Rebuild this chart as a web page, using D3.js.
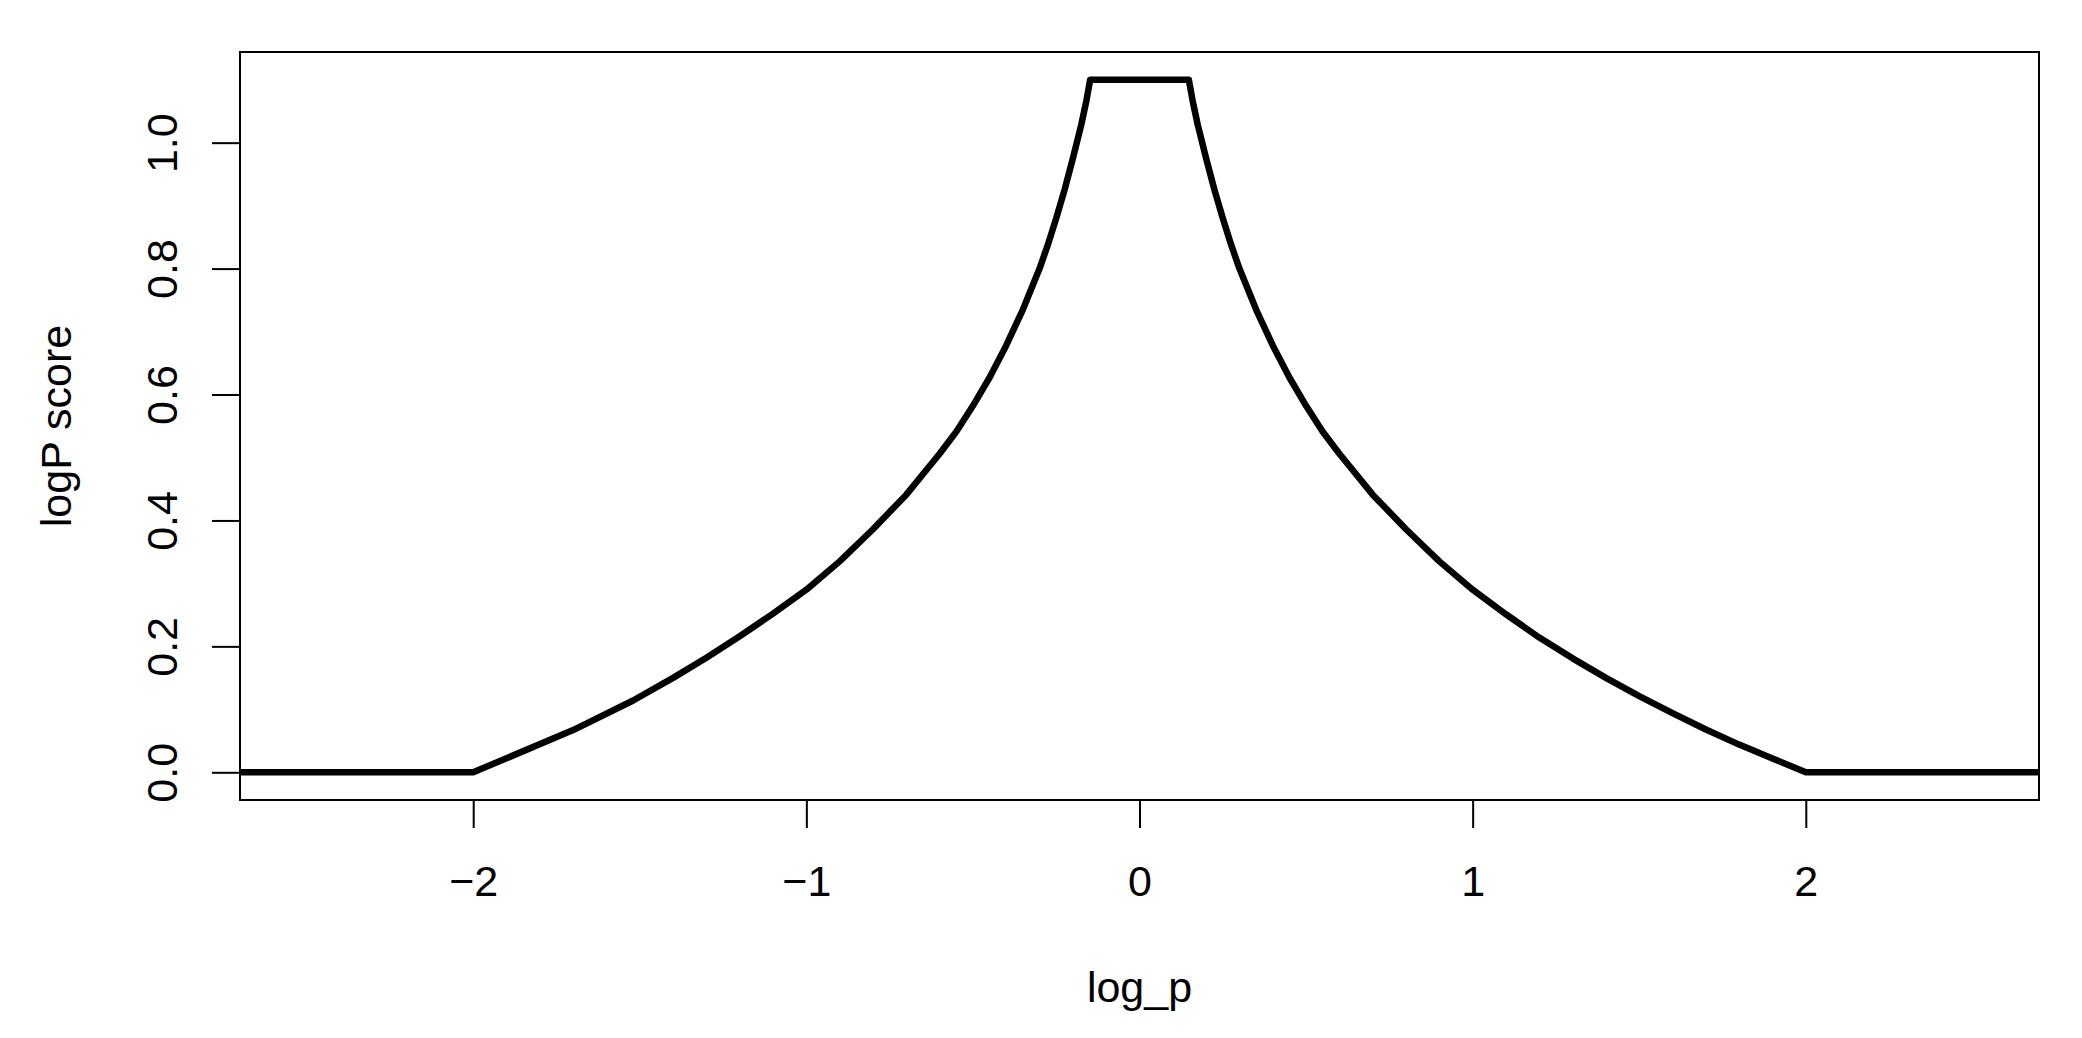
<!DOCTYPE html>
<html>
<head>
<meta charset="utf-8">
<script src="https://cdn.jsdelivr.net/npm/d3@7"></script>
<style>
  body { margin: 0; background: #fff; }
  text { font-family: "Liberation Sans", Arial, Helvetica, sans-serif; fill: #000; }
</style>
</head>
<body>
<div id="chart"></div>
<script>
// values
var logP = [-3.0, -2.0, -1.70, -1.52, -1.40, -1.30, -1.20, -1.10, -1.00, -0.90, -0.80,
            -0.70, -0.60, -0.55, -0.50, -0.45, -0.40, -0.35, -0.30, -0.275, -0.25, -0.225,
            -0.20, -0.175, -0.16, -0.148,
            0.148, 0.16, 0.175, 0.20, 0.225, 0.25, 0.275, 0.30, 0.35, 0.40, 0.45, 0.50,
            0.55, 0.60, 0.70, 0.80, 0.90, 1.00, 1.10, 1.20, 1.30, 1.40, 1.50, 1.60,
            1.70, 1.80, 1.90, 2.0, 3.0];
var score = [0, 0, 0.067, 0.114, 0.150, 0.182, 0.216, 0.252, 0.290, 0.335, 0.386,
             0.441, 0.506, 0.541, 0.582, 0.627, 0.678, 0.735, 0.800, 0.838, 0.880, 0.925,
             0.975, 1.028, 1.065, 1.10,
             1.10, 1.065, 1.028, 0.975, 0.925, 0.880, 0.838, 0.800, 0.735, 0.678, 0.627, 0.582,
             0.541, 0.506, 0.441, 0.386, 0.335, 0.290, 0.251, 0.214, 0.181, 0.150, 0.121, 0.094,
             0.068, 0.044, 0.022, 0, 0];
var xTicks = [-2, -1, 0, 1, 2];
var yTicks = [0, 0.2, 0.4, 0.6, 0.8, 1.0];
var xLabel = "log_p";
var yLabel = "logP score";

var W = 2082, H = 1038;
var box = {left: 240, right: 2039, top: 52, bottom: 800};

var svg = d3.select("#chart")
  .append("svg")
    .attr("width", W)
    .attr("height", H);

var x = d3.scaleLinear()
  .domain([-2.7, 2.7])
  .range([box.left, box.right]);

var y = d3.scaleLinear()
  .domain([-0.044, 1.144])
  .range([box.bottom, box.top]);

svg.append("clipPath")
    .attr("id", "plotclip")
  .append("rect")
    .attr("x", box.left)
    .attr("y", box.top)
    .attr("width", box.right - box.left)
    .attr("height", box.bottom - box.top);

// curve
var pts = logP.map(function(d, i) { return [d, score[i]]; });
var line = d3.line()
  .x(function(d) { return x(d[0]); })
  .y(function(d) { return y(d[1]); });

svg.append("path")
  .datum(pts)
  .attr("clip-path", "url(#plotclip)")
  .attr("d", line)
  .attr("fill", "none")
  .attr("stroke", "#000")
  .attr("stroke-width", 6.5)
  .attr("stroke-linejoin", "round")
  .attr("stroke-linecap", "round");

// x axis
var gx = svg.append("g")
  .attr("transform", "translate(0," + box.bottom + ")")
  .call(d3.axisBottom(x)
    .tickValues(xTicks)
    .tickSize(28)
    .tickSizeOuter(0)
    .tickFormat(function(d) { return d < 0 ? "\u2212" + Math.abs(d) : d; }));
gx.select(".domain").remove();
gx.selectAll("line").attr("stroke", "#000").attr("stroke-width", 2);
gx.selectAll("text")
  .attr("y", 96)
  .attr("dy", 0)
  .attr("fill", "#000")
  .style("font-size", "43px");

// y axis
var gy = svg.append("g")
  .attr("transform", "translate(" + box.left + ",0)")
  .call(d3.axisLeft(y)
    .tickValues(yTicks)
    .tickSize(28)
    .tickSizeOuter(0)
    .tickFormat(d3.format(".1f")));
gy.select(".domain").remove();
gy.selectAll("line").attr("stroke", "#000").attr("stroke-width", 2);
gy.selectAll("text")
  .attr("transform", "rotate(-90)")
  .attr("x", 0)
  .attr("y", -63)
  .attr("dy", 0)
  .attr("text-anchor", "middle")
  .attr("fill", "#000")
  .style("font-size", "43px");

// box
svg.append("rect")
  .attr("x", box.left)
  .attr("y", box.top)
  .attr("width", box.right - box.left)
  .attr("height", box.bottom - box.top)
  .attr("fill", "none")
  .attr("stroke", "#000")
  .attr("stroke-width", 2);

// axis titles
svg.append("text")
  .attr("x", (box.left + box.right) / 2)
  .attr("y", 1002)
  .attr("text-anchor", "middle")
  .style("font-size", "43px")
  .text(xLabel);

svg.append("text")
  .attr("transform", "translate(71," + (box.top + box.bottom) / 2 + ") rotate(-90)")
  .attr("text-anchor", "middle")
  .style("font-size", "43px")
  .text(yLabel);
</script>
</body>
</html>
